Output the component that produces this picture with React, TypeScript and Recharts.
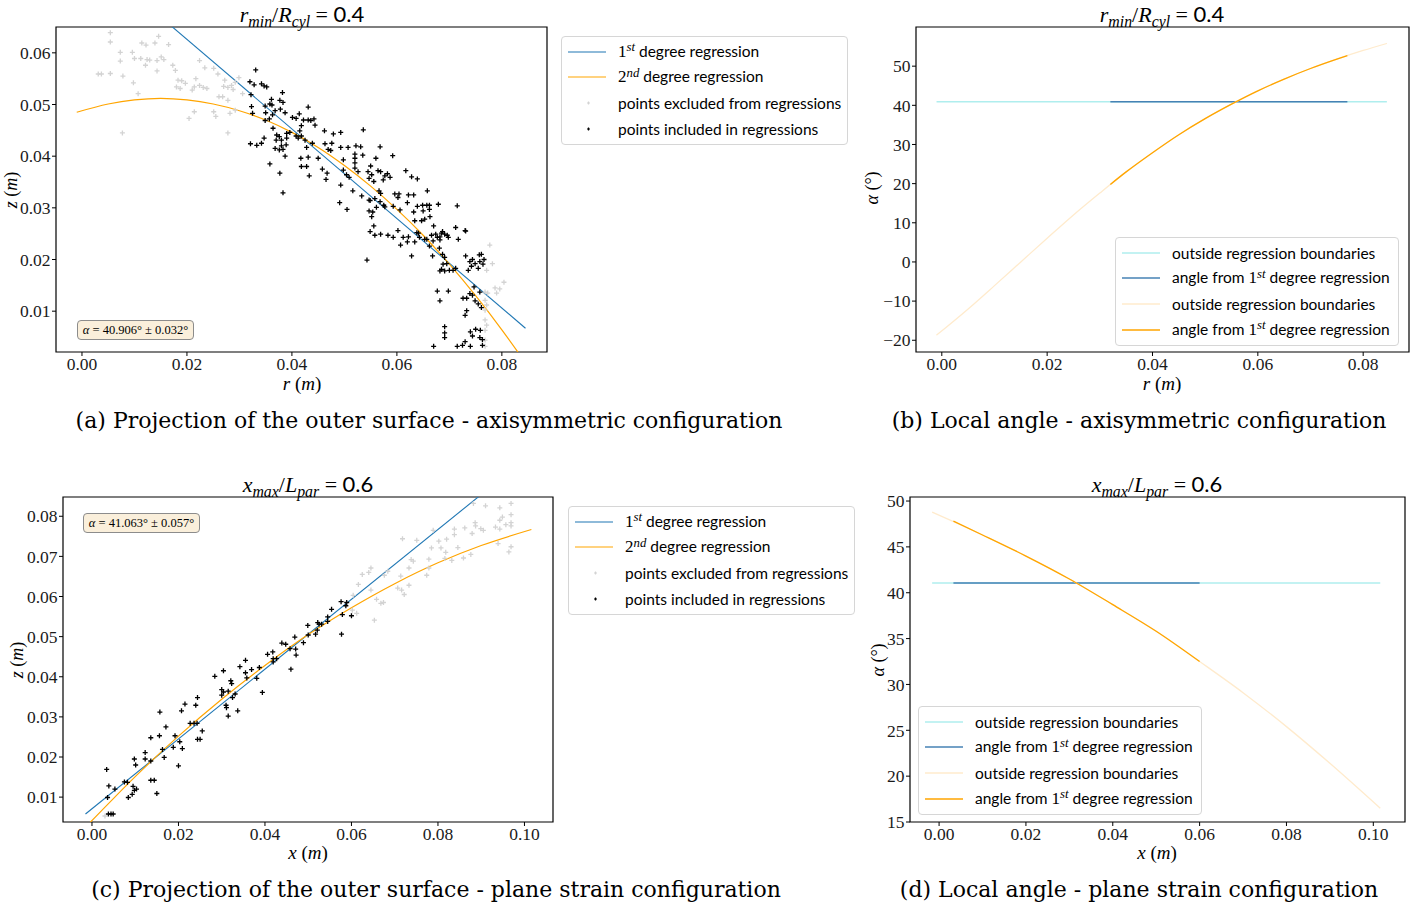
import React from "react"
import { ComposedChart, Scatter, Line, XAxis, YAxis, ReferenceArea } from "recharts"

type P = [number, number]

// (a) axisymmetric: z against r
const aExcluded: P[] = [
  [0.0054, 0.0639], [0.0054, 0.0621], [0.0073, 0.0601], [0.0073, 0.0584], [0.0096, 0.0601], [0.01, 0.0589],
  [0.0114, 0.0619], [0.0122, 0.0615], [0.0139, 0.0619], [0.0146, 0.0632], [0.0165, 0.0616], [0.0112, 0.0589],
  [0.0124, 0.0587], [0.0129, 0.0586], [0.0143, 0.0585], [0.0151, 0.0592], [0.0156, 0.0587], [0.0121, 0.0576],
  [0.0143, 0.0565], [0.0173, 0.0576], [0.0178, 0.0566], [0.0183, 0.0547], [0.019, 0.0546], [0.0197, 0.0541],
  [0.018, 0.0534], [0.0187, 0.0531], [0.0031, 0.0559], [0.0037, 0.0559], [0.0054, 0.056], [0.0078, 0.0555],
  [0.0098, 0.0542], [0.0107, 0.0521], [0.0077, 0.0445], [0.0204, 0.0473], [0.0214, 0.0486], [0.0224, 0.0585],
  [0.0234, 0.0571], [0.0217, 0.055], [0.0214, 0.0534], [0.021, 0.0528], [0.0224, 0.0537], [0.0231, 0.0533],
  [0.0238, 0.0531], [0.0251, 0.057], [0.0259, 0.0559], [0.0272, 0.0547], [0.027, 0.0535], [0.0278, 0.0533],
  [0.0285, 0.0537], [0.0288, 0.0529], [0.0261, 0.0515], [0.0268, 0.0515], [0.0278, 0.0508], [0.0251, 0.0486],
  [0.0255, 0.0477], [0.0282, 0.0483], [0.0292, 0.0489], [0.0278, 0.0445], [0.0292, 0.0543], [0.0299, 0.0552],
  [0.0306, 0.0521],
  [0.0777, 0.0228], [0.0782, 0.0192], [0.0771, 0.0179], [0.0768, 0.0137], [0.0773, 0.0135], [0.079, 0.0135],
  [0.0796, 0.0143], [0.0804, 0.0156], [0.0787, 0.0145], [0.0768, 0.0121], [0.0768, 0.0102], [0.0768, 0.0083],
  [0.0768, 0.0063], [0.0768, 0.0044], [0.0768, 0.0032], [0.0771, 0.0112], [0.0771, 0.0073],
]

const aIncluded: P[] = [
  [0.0331, 0.0567], [0.032, 0.0544], [0.0328, 0.0538], [0.0342, 0.054], [0.0347, 0.0536], [0.0352, 0.0534],
  [0.0322, 0.0519], [0.0382, 0.0523], [0.0361, 0.051], [0.0358, 0.0501], [0.0362, 0.0499], [0.0377, 0.0508],
  [0.0383, 0.0504], [0.0323, 0.0496], [0.0349, 0.0497], [0.035, 0.0484], [0.0368, 0.0488], [0.0378, 0.0491],
  [0.0387, 0.0484], [0.0325, 0.0483], [0.0363, 0.048], [0.0357, 0.0472], [0.0349, 0.0469], [0.0401, 0.0475],
  [0.0408, 0.0473], [0.0414, 0.0482], [0.0431, 0.0495], [0.0431, 0.047], [0.0436, 0.0469], [0.0442, 0.0472],
  [0.0422, 0.047], [0.0444, 0.046], [0.0418, 0.0459], [0.0415, 0.0449], [0.0364, 0.0454], [0.0347, 0.0435],
  [0.0371, 0.0441], [0.0376, 0.0438], [0.037, 0.0431], [0.038, 0.0431], [0.039, 0.0444], [0.039, 0.0435],
  [0.0396, 0.0446], [0.0408, 0.0439], [0.0412, 0.0435], [0.0418, 0.0439], [0.0425, 0.0431], [0.0321, 0.0424],
  [0.0333, 0.0421], [0.0342, 0.0425], [0.0368, 0.0415], [0.0376, 0.0412], [0.0383, 0.0413], [0.038, 0.042],
  [0.0389, 0.0422], [0.0387, 0.04], [0.0428, 0.0417], [0.0439, 0.0425], [0.0462, 0.0449], [0.0479, 0.0443],
  [0.0493, 0.0446], [0.0463, 0.0424], [0.0469, 0.0413], [0.0476, 0.0425], [0.0493, 0.0417], [0.0507, 0.0417],
  [0.0522, 0.042], [0.0536, 0.0451], [0.0535, 0.0402], [0.052, 0.0396], [0.0498, 0.0393], [0.0417, 0.0396],
  [0.0431, 0.0398], [0.045, 0.0396], [0.0474, 0.0411], [0.0358, 0.0385], [0.0418, 0.038], [0.0428, 0.038],
  [0.0458, 0.0375], [0.0467, 0.0367], [0.0433, 0.0362], [0.0377, 0.0367], [0.0465, 0.0355], [0.0498, 0.0373],
  [0.0504, 0.0364], [0.0509, 0.0359], [0.052, 0.0377], [0.0545, 0.037], [0.0552, 0.0364], [0.0547, 0.0357],
  [0.0493, 0.0344], [0.0516, 0.0333], [0.0533, 0.0323], [0.0549, 0.0314], [0.0383, 0.0329], [0.0491, 0.031],
  [0.0505, 0.0297],
  [0.0531, 0.0418], [0.0568, 0.0418], [0.052, 0.0404], [0.056, 0.0396], [0.0592, 0.0401], [0.052, 0.0387],
  [0.0526, 0.037], [0.055, 0.0381], [0.0564, 0.0372], [0.0569, 0.037], [0.0582, 0.0366], [0.0556, 0.0351],
  [0.0574, 0.0354], [0.0587, 0.0359], [0.0577, 0.0362], [0.0617, 0.0372], [0.0628, 0.036], [0.0639, 0.0356],
  [0.0566, 0.0333], [0.0569, 0.0328], [0.0596, 0.0327], [0.0604, 0.0327], [0.0602, 0.032], [0.0622, 0.0325],
  [0.0632, 0.0325], [0.0658, 0.0333], [0.0547, 0.0315], [0.0558, 0.0318], [0.0568, 0.0312], [0.0575, 0.0305],
  [0.0561, 0.0301], [0.0577, 0.0302], [0.0593, 0.0303], [0.062, 0.031], [0.0639, 0.0303], [0.0649, 0.0305],
  [0.0657, 0.0305], [0.0662, 0.0305], [0.0679, 0.0307], [0.0715, 0.0304], [0.0547, 0.0294], [0.0554, 0.0292],
  [0.0552, 0.0283], [0.0606, 0.0296], [0.0632, 0.0292], [0.065, 0.0294], [0.0662, 0.0297], [0.0647, 0.0275],
  [0.0653, 0.0278], [0.0663, 0.0283], [0.0634, 0.0275], [0.0556, 0.0265], [0.0549, 0.0254], [0.0558, 0.0247],
  [0.0569, 0.0249], [0.0583, 0.0247], [0.0593, 0.0243], [0.0602, 0.0256], [0.0612, 0.0243], [0.0622, 0.0244],
  [0.0638, 0.0252], [0.0643, 0.0243], [0.0657, 0.0239], [0.067, 0.0265], [0.0674, 0.0249], [0.0677, 0.0243],
  [0.0682, 0.0244], [0.0687, 0.0254], [0.0691, 0.0249], [0.0696, 0.0247], [0.0698, 0.0243], [0.0712, 0.0262],
  [0.073, 0.0256], [0.0717, 0.0239], [0.0682, 0.0238], [0.0669, 0.0236], [0.0607, 0.0228], [0.062, 0.0234],
  [0.0634, 0.0234], [0.0662, 0.0226], [0.0681, 0.0222], [0.0543, 0.0199],
  [0.0641, 0.0251], [0.0653, 0.0239], [0.0666, 0.0247], [0.0685, 0.0251], [0.0731, 0.0255], [0.0628, 0.0207],
  [0.0668, 0.0207], [0.0687, 0.021], [0.0691, 0.0204], [0.0695, 0.0192], [0.0688, 0.0191], [0.0685, 0.0181],
  [0.07, 0.0179], [0.0707, 0.0179], [0.0691, 0.0178], [0.0682, 0.0178], [0.0712, 0.0183], [0.0731, 0.0207],
  [0.0739, 0.0196], [0.0744, 0.02], [0.0742, 0.0187], [0.0749, 0.0192], [0.0757, 0.0209], [0.0761, 0.021],
  [0.0758, 0.0196], [0.0755, 0.0183], [0.0766, 0.02], [0.0764, 0.0191], [0.0736, 0.0179], [0.0677, 0.0139],
  [0.0698, 0.0139], [0.0682, 0.012], [0.0726, 0.0125], [0.0733, 0.0125], [0.0747, 0.0147], [0.0739, 0.0134],
  [0.0744, 0.0131], [0.0749, 0.012], [0.0758, 0.0137], [0.0755, 0.0114], [0.0761, 0.0107], [0.0733, 0.0101],
  [0.073, 0.0092], [0.0691, 0.007], [0.0691, 0.0058], [0.0691, 0.0049], [0.074, 0.006], [0.075, 0.0065],
  [0.0759, 0.0063], [0.0744, 0.0052], [0.0758, 0.0049], [0.0763, 0.0045], [0.073, 0.0041], [0.0725, 0.0034],
  [0.0715, 0.0032], [0.067, 0.0032], [0.074, 0.0032], [0.0763, 0.0034],
]

const aLinear: P[] = [[-0.001, 0.0808], [0.0845, 0.0067]]
const aQuadratic: P[] = [
  [-0.001, 0.0485], [0.005, 0.0501], [0.01, 0.0509], [0.015, 0.0512], [0.02, 0.0509], [0.025, 0.0501],
  [0.03, 0.0488], [0.035, 0.047], [0.04, 0.0446], [0.045, 0.0417], [0.05, 0.0382], [0.055, 0.0342],
  [0.06, 0.0297], [0.065, 0.0247], [0.07, 0.0191], [0.075, 0.013], [0.08, 0.0064], [0.0845, 0.0],
]

// (b) local angle, axisymmetric
const bAngleOut: P[] = [[-0.001, 40.906], [0.0845, 40.906]]
const bAngle: P[] = [[0.032, 40.906], [0.077, 40.906]]
const bLocalOut: P[] = [
  [-0.001, -18.7], [0.005, -12.0], [0.01, -6.05], [0.015, 0], [0.02, 6.05], [0.025, 12.0], [0.03, 17.6],
  [0.035, 23.0], [0.04, 27.9], [0.045, 32.5], [0.05, 36.6], [0.055, 40.3], [0.06, 43.7], [0.065, 46.7],
  [0.07, 49.4], [0.075, 51.8], [0.08, 54.0], [0.0845, 55.8],
]
const bLocal: P[] = [
  [0.032, 19.8], [0.035, 23.0], [0.04, 27.9], [0.045, 32.5], [0.05, 36.6], [0.055, 40.3], [0.06, 43.7],
  [0.065, 46.7], [0.07, 49.4], [0.075, 51.8], [0.077, 52.7],
]

// (c) plane strain: z against x
const cExcluded: P[] = [
  [0.003, 0.0053],
  [0.0612, 0.0558], [0.0602, 0.0566], [0.0604, 0.0603], [0.0616, 0.063], [0.0625, 0.0655], [0.0645, 0.0671],
  [0.0645, 0.0616], [0.0658, 0.0593], [0.0668, 0.0583], [0.0674, 0.0585], [0.0653, 0.0541], [0.0676, 0.0653],
  [0.0684, 0.0663], [0.0714, 0.0651], [0.0707, 0.0621], [0.0716, 0.0616], [0.0722, 0.0605], [0.0733, 0.0628],
  [0.0733, 0.0671], [0.0738, 0.0692], [0.0743, 0.0688], [0.0718, 0.0744], [0.0751, 0.074], [0.0774, 0.0653],
  [0.0779, 0.0671], [0.0779, 0.0693], [0.0785, 0.0721], [0.0789, 0.0765], [0.0802, 0.0738], [0.0807, 0.0721],
  [0.0818, 0.071], [0.082, 0.0743], [0.0838, 0.0768], [0.0838, 0.0754], [0.0846, 0.0722], [0.0859, 0.0696],
  [0.0862, 0.0771], [0.0876, 0.0705], [0.0879, 0.0757], [0.0886, 0.0784], [0.0887, 0.0776], [0.0899, 0.0769],
  [0.0905, 0.0765], [0.0882, 0.0832], [0.091, 0.0826], [0.0933, 0.0773], [0.0939, 0.0732], [0.0943, 0.0821],
  [0.0943, 0.079], [0.0943, 0.0768], [0.0949, 0.0798], [0.0957, 0.0779], [0.0969, 0.0832], [0.0969, 0.0804],
  [0.0969, 0.0784], [0.0969, 0.0776], [0.0969, 0.0724], [0.0964, 0.0711], [0.0832, 0.069], [0.0816, 0.0695],
  [0.064, 0.066],
]

const cIncluded: P[] = [
  [0.0034, 0.0169], [0.0039, 0.0128], [0.0036, 0.0099], [0.0053, 0.012], [0.0038, 0.0058], [0.0044, 0.0058],
  [0.0049, 0.0058], [0.0075, 0.0138], [0.0082, 0.0137], [0.0084, 0.0099], [0.0093, 0.0107], [0.0098, 0.0117],
  [0.0103, 0.012], [0.0095, 0.0127], [0.0098, 0.0195], [0.0101, 0.018], [0.0123, 0.0211], [0.0123, 0.0195],
  [0.0136, 0.019], [0.0136, 0.0142], [0.0144, 0.0142], [0.015, 0.0109], [0.0136, 0.0248], [0.0156, 0.0253],
  [0.0157, 0.0312], [0.0163, 0.0219], [0.0167, 0.0199], [0.0171, 0.0275], [0.0188, 0.0224], [0.0192, 0.0253],
  [0.02, 0.0178], [0.0203, 0.0238], [0.0209, 0.0221], [0.0207, 0.0315], [0.0215, 0.0332], [0.0227, 0.0284],
  [0.0236, 0.0284], [0.0243, 0.0284], [0.024, 0.0329], [0.0244, 0.0348], [0.0244, 0.0244], [0.025, 0.0244],
  [0.0255, 0.0265], [0.0284, 0.0401], [0.0304, 0.0415], [0.03, 0.0368], [0.0304, 0.0362], [0.03, 0.0354],
  [0.0321, 0.039], [0.0323, 0.0383], [0.0315, 0.0364], [0.0325, 0.0348], [0.0331, 0.0357], [0.031, 0.0329],
  [0.0311, 0.0323], [0.0315, 0.0302], [0.0337, 0.0315], [0.0342, 0.0425], [0.0355, 0.0441], [0.0355, 0.041],
  [0.0369, 0.0418], [0.0358, 0.0397], [0.0381, 0.0396], [0.0387, 0.0423], [0.0394, 0.0361], [0.0406, 0.0456],
  [0.0418, 0.0462], [0.0419, 0.0437], [0.0419, 0.0445], [0.0427, 0.0445], [0.0439, 0.0484], [0.0448, 0.0481],
  [0.0458, 0.047], [0.046, 0.0419], [0.0469, 0.0499], [0.0471, 0.0469], [0.0472, 0.0454], [0.0489, 0.0485],
  [0.0499, 0.0528], [0.05, 0.0504], [0.0517, 0.0506], [0.0521, 0.0516], [0.0522, 0.0535], [0.0525, 0.0531],
  [0.0531, 0.0531], [0.0545, 0.0549], [0.0545, 0.0538], [0.0554, 0.0568], [0.0576, 0.0587], [0.0579, 0.0555],
  [0.0587, 0.0577], [0.0589, 0.0585], [0.0577, 0.0506], [0.06, 0.0552],
]

const cLinear: P[] = [[-0.0015, 0.0058], [0.1016, 0.0955]]
const cQuadratic: P[] = [
  [-0.0015, 0.0025], [0.005, 0.0097], [0.01, 0.0151], [0.02, 0.0252], [0.03, 0.0344], [0.04, 0.0428],
  [0.05, 0.0505], [0.06, 0.0572], [0.07, 0.0632], [0.08, 0.0684], [0.09, 0.0727], [0.1016, 0.0767],
]

// (d) local angle, plane strain
const dAngleOut: P[] = [[-0.0016, 41.063], [0.1016, 41.063]]
const dAngle: P[] = [[0.0033, 41.063], [0.06, 41.063]]
const dLocalOut: P[] = [
  [-0.0016, 48.8], [0.005, 47.4], [0.01, 46.3], [0.02, 44.0], [0.03, 41.5], [0.04, 38.7], [0.05, 35.8],
  [0.06, 32.5], [0.07, 29.1], [0.08, 25.4], [0.09, 21.4], [0.1016, 16.5],
]
const dLocal: P[] = [
  [0.0033, 47.8], [0.01, 46.3], [0.02, 44.0], [0.03, 41.5], [0.04, 38.7], [0.05, 35.8], [0.06, 32.5],
]

const rTicks = [0, 0.02, 0.04, 0.06, 0.08]
const xTicks = [0, 0.02, 0.04, 0.06, 0.08, 0.1]
const aZTicks = [0.01, 0.02, 0.03, 0.04, 0.05, 0.06]
const bAlphaTicks = [-20, -10, 0, 10, 20, 30, 40, 50]
const cZTicks = [0.01, 0.02, 0.03, 0.04, 0.05, 0.06, 0.07, 0.08]
const dAlphaTicks = [15, 20, 25, 30, 35, 40, 45, 50]

const BLUE = "#1f77b4"
const ORANGE = "#ffa500"
const LIGHTGRAY = "#d3d3d3"
const PALECYAN = "#afeeee"
const STEEL = "#4682b4"
const PALEORANGE = "#ffebcd"

const SERIF = "'Liberation Serif', 'DejaVu Serif', serif"
const CAPTION = "'DejaVu Serif', serif"
const SANS = "Lato, 'DejaVu Sans', sans-serif"

const toPts = (p: P[]) => p.map(([x, y]) => ({ x, y }))

const plus = (color: string) => (props: any) => {
  const { cx, cy } = props
  if (cx == null || cy == null) return <g />
  return <path d={`M${cx - 2.5},${cy}h5M${cx},${cy - 2.5}v5`} stroke={color} strokeWidth={1.3} fill="none" />
}

const fmt2 = (v: number) => v.toFixed(2)
const fmtInt = (v: number) => (v < 0 ? "\u2212" + Math.abs(v) : String(v))

type Curve = { pts: P[]; color: string; width: number }

const Y_W = 50
const X_H = 30
const PAD = 10

function Plot(props: {
  left: number; top: number; right: number; bottom: number
  xDomain: [number, number]; yDomain: [number, number]
  xTicks: number[]; yTicks: number[]; yFmt: (v: number) => string
  excluded?: P[]; included?: P[]; curves: Curve[]
}) {
  const { left, top, right, bottom, xDomain, yDomain } = props
  const boxLeft = left - Y_W - 2
  const boxTop = top - PAD
  const w = right - boxLeft + 2
  const h = bottom - boxTop + X_H
  const tick = { fill: "#1a1a1a", fontSize: 17.5, fontFamily: SERIF }
  return (
    <div style={{ position: "absolute", left: boxLeft, top: boxTop }}>
      <ComposedChart width={w} height={h} margin={{ top: PAD, left: 2, right: 2, bottom: 0 }}>
        <XAxis
          type="number" dataKey="x" domain={xDomain} allowDataOverflow ticks={props.xTicks} interval={0}
          tickFormatter={fmt2} height={X_H} tickSize={4} tickMargin={2} axisLine={false}
          tickLine={{ stroke: "#000" }} tick={tick}
        />
        <YAxis
          type="number" dataKey="y" domain={yDomain} allowDataOverflow ticks={props.yTicks} interval={0}
          tickFormatter={props.yFmt} width={Y_W} tickSize={4} tickMargin={1.5} axisLine={false}
          tickLine={{ stroke: "#000" }} tick={tick}
        />
        {props.excluded && (
          <Scatter data={toPts(props.excluded)} shape={plus(LIGHTGRAY)} isAnimationActive={false} />
        )}
        {props.included && (
          <Scatter data={toPts(props.included)} shape={plus("#000")} isAnimationActive={false} />
        )}
        {props.curves.map((c, i) => (
          <Line
            key={i} data={toPts(c.pts)} dataKey="y" type="monotone" stroke={c.color} strokeWidth={c.width}
            dot={false} activeDot={false} isAnimationActive={false}
          />
        ))}
        <ReferenceArea
          x1={xDomain[0]} x2={xDomain[1]} y1={yDomain[0]} y2={yDomain[1]}
          fill="none" fillOpacity={0} stroke="#000" strokeWidth={1.2}
        />
      </ComposedChart>
    </div>
  )
}

function Txt(props: { x: number; y: number; size: number; font?: string; rotate?: boolean; children: React.ReactNode }) {
  return (
    <div
      style={{
        position: "absolute", left: props.x, top: props.y, whiteSpace: "nowrap", lineHeight: 1,
        transform: `translate(-50%, -50%)${props.rotate ? " rotate(-90deg)" : ""}`,
        fontSize: props.size, fontFamily: props.font ?? SERIF, color: "#000",
      }}
    >
      {props.children}
    </div>
  )
}

const sub = { fontSize: "0.72em", fontStyle: "italic", position: "relative" as const, top: "0.3em" }
const sup = { fontSize: "0.75em", fontStyle: "italic", position: "relative" as const, top: "-0.45em" }

const Ord = ({ n, s }: { n: string; s: string }) => (
  <span style={{ fontFamily: SERIF, fontSize: "1.1em" }}>
    {n}
    <span style={sup}>{s}</span>
  </span>
)

type KeyRow = { kind: "line" | "plus"; color: string; width?: number; label: React.ReactNode }

function Key(props: { left: number; top: number; width: number; rows: KeyRow[] }) {
  return (
    <div
      style={{
        position: "absolute", left: props.left, top: props.top, width: props.width, boxSizing: "border-box",
        border: "1px solid #d6d6d6", borderRadius: 4, background: "rgba(255,255,255,0.85)", padding: "2px 0 3px",
        fontFamily: SANS, fontSize: 15.5, color: "#000",
      }}
    >
      {props.rows.map((r, i) => (
        <div key={i} style={{ height: 25.6, display: "flex", alignItems: "center" }}>
          <svg width={56} height={12} style={{ flex: "none" }}>
            {r.kind === "line" ? (
              <line x1={6} x2={44} y1={6} y2={6} stroke={r.color} strokeWidth={r.width ?? 1.3} />
            ) : (
              <path d="M25,6h3M26.5,4.5v3" stroke={r.color} strokeWidth={1.2} />
            )}
          </svg>
          <span style={{ whiteSpace: "nowrap" }}>{r.label}</span>
        </div>
      ))}
    </div>
  )
}

function AlphaBox(props: { left: number; top: number; text: string }) {
  return (
    <div
      style={{
        position: "absolute", left: props.left, top: props.top, width: 117, height: 20, boxSizing: "border-box",
        border: "1px solid #8c8c8c", borderRadius: 4, background: "#faefdb", fontFamily: SERIF, fontSize: 12.5,
        display: "flex", alignItems: "center", justifyContent: "center", whiteSpace: "nowrap",
      }}
    >
      <i>α</i>&nbsp;=&nbsp;{props.text}
    </div>
  )
}

const regressionRows: KeyRow[] = [
  { kind: "line", color: BLUE, width: 1.2, label: <><Ord n="1" s="st" /> degree regression</> },
  { kind: "line", color: ORANGE, width: 1.2, label: <><Ord n="2" s="nd" /> degree regression</> },
  { kind: "plus", color: LIGHTGRAY, label: "points excluded from regressions" },
  { kind: "plus", color: "#000", label: "points included in regressions" },
]

const angleRows: KeyRow[] = [
  { kind: "line", color: PALECYAN, width: 1.6, label: "outside regression boundaries" },
  { kind: "line", color: STEEL, width: 1.6, label: <>angle from <Ord n="1" s="st" /> degree regression</> },
  { kind: "line", color: PALEORANGE, width: 1.6, label: "outside regression boundaries" },
  { kind: "line", color: ORANGE, width: 1.6, label: <>angle from <Ord n="1" s="st" /> degree regression</> },
]

const Ratio = ({ a, as, b, bs, v }: { a: string; as: string; b: string; bs: string; v: string }) => (
  <>
    <i>{a}</i>
    <span style={sub}>{as}</span>/<i>{b}</i>
    <span style={sub}>{bs}</span> = <span style={{ fontFamily: SANS }}>{v}</span>
  </>
)

export default function App() {
  return (
    <div style={{ position: "absolute", left: 0, top: 0, width: 1417, height: 911, background: "#fff", overflow: "hidden" }}>
      {/* (a) */}
      <Plot
        left={56} top={27} right={547} bottom={352}
        xDomain={[-0.00495, 0.0886]} yDomain={[0.0021, 0.065]}
        xTicks={rTicks} yTicks={aZTicks} yFmt={fmt2}
        excluded={aExcluded} included={aIncluded}
        curves={[
          { pts: aLinear, color: BLUE, width: 1.1 },
          { pts: aQuadratic, color: ORANGE, width: 1.2 },
        ]}
      />
      <Txt x={302} y={14} size={22}><Ratio a="r" as="min" b="R" bs="cyl" v="0.4" /></Txt>
      <Txt x={302} y={383} size={19}><i>r</i> (<i>m</i>)</Txt>
      <Txt x={11} y={190} size={18} rotate><i>z</i> (<i>m</i>)</Txt>
      <AlphaBox left={77} top={320} text="40.906° ± 0.032°" />
      <Key left={561} top={36} width={287} rows={regressionRows} />
      <Txt x={429} y={421} size={22} font={CAPTION}>(a) Projection of the outer surface - axisymmetric configuration</Txt>

      {/* (b) */}
      <Plot
        left={916} top={27} right={1409} bottom={352}
        xDomain={[-0.0049, 0.0887]} yDomain={[-23, 60]}
        xTicks={rTicks} yTicks={bAlphaTicks} yFmt={fmtInt}
        curves={[
          { pts: bAngleOut, color: PALECYAN, width: 1.3 },
          { pts: bAngle, color: STEEL, width: 1.3 },
          { pts: bLocalOut, color: PALEORANGE, width: 1.3 },
          { pts: bLocal, color: ORANGE, width: 1.3 },
        ]}
      />
      <Txt x={1162} y={14} size={22}><Ratio a="r" as="min" b="R" bs="cyl" v="0.4" /></Txt>
      <Txt x={1162} y={383} size={19}><i>r</i> (<i>m</i>)</Txt>
      <Txt x={872} y={188} size={18} rotate><i>α</i> (°)</Txt>
      <Key left={1115} top={237} width={284} rows={angleRows} />
      <Txt x={1139} y={421} size={22} font={CAPTION}>(b) Local angle - axisymmetric configuration</Txt>

      {/* (c) */}
      <Plot
        left={63} top={497} right={553} bottom={822}
        xDomain={[-0.0067, 0.1066]} yDomain={[0.0038, 0.0848]}
        xTicks={xTicks} yTicks={cZTicks} yFmt={fmt2}
        excluded={cExcluded} included={cIncluded}
        curves={[
          { pts: cLinear, color: BLUE, width: 1.1 },
          { pts: cQuadratic, color: ORANGE, width: 1.2 },
        ]}
      />
      <Txt x={308} y={484} size={22}><Ratio a="x" as="max" b="L" bs="par" v="0.6" /></Txt>
      <Txt x={308} y={852} size={19}><i>x</i> (<i>m</i>)</Txt>
      <Txt x={17} y={660} size={18} rotate><i>z</i> (<i>m</i>)</Txt>
      <AlphaBox left={83} top={513} text="41.063° ± 0.057°" />
      <Key left={568} top={506} width={287} rows={regressionRows} />
      <Txt x={436} y={890} size={22} font={CAPTION}>(c) Projection of the outer surface - plane strain configuration</Txt>

      {/* (d) */}
      <Plot
        left={910} top={497} right={1405} bottom={822}
        xDomain={[-0.0067, 0.1073]} yDomain={[15, 50.44]}
        xTicks={xTicks} yTicks={dAlphaTicks} yFmt={fmtInt}
        curves={[
          { pts: dAngleOut, color: PALECYAN, width: 1.3 },
          { pts: dAngle, color: STEEL, width: 1.3 },
          { pts: dLocalOut, color: PALEORANGE, width: 1.3 },
          { pts: dLocal, color: ORANGE, width: 1.3 },
        ]}
      />
      <Txt x={1157} y={484} size={22}><Ratio a="x" as="max" b="L" bs="par" v="0.6" /></Txt>
      <Txt x={1157} y={852} size={19}><i>x</i> (<i>m</i>)</Txt>
      <Txt x={878} y={660} size={18} rotate><i>α</i> (°)</Txt>
      <Key left={918} top={706} width={284} rows={angleRows} />
      <Txt x={1139} y={890} size={22} font={CAPTION}>(d) Local angle - plane strain configuration</Txt>
    </div>
  )
}
